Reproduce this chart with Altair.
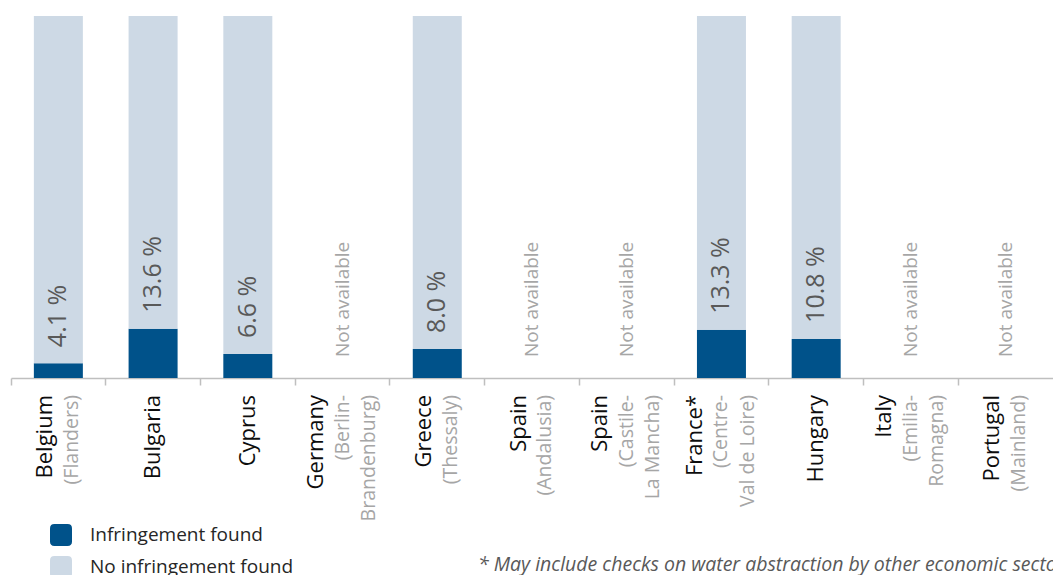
import altair as alt
import pandas as pd

countries = ["Belgium", "Bulgaria", "Cyprus", "Germany", "Greece", "Spain",
             "Spain", "France*", "Hungary", "Italy", "Portugal"]
regions = ["(Flanders)", "", "", "(Berlin-\nBrandenburg)", "(Thessaly)",
           "(Andalusia)", "(Castile-\nLa Mancha)", "(Centre-\nVal de Loire)",
           "", "(Emilia-\nRomagna)", "(Mainland)"]
infringement = [4.1, 13.6, 6.6, None, 8.0, None, None, 13.3, 10.8, None, None]
series = ["Infringement found", "No infringement found"]
footnote = "* May include checks on water abstraction by other economic sectors"

NB = "\u00a0"
keys, ctext, rtext = [], [], []
for i, (c, r) in enumerate(zip(countries, regions)):
    rl = r.split("\n") if r else []
    keys.append(f"{i:02d} {c}")
    ctext.append("\n".join([c] + [NB] * len(rl)))
    rtext.append("\n".join([NB] + rl))

df = pd.DataFrame({"key": keys, "ctext": ctext, "rtext": rtext,
                   "inf": infringement})

DARK = "#00528A"
LIGHT = "#CDD9E5"
FONT = "Open Sans"
LH = 26.5

x = alt.X("key:N", scale=alt.Scale(domain=keys, paddingInner=0, paddingOuter=0),
          axis=alt.Axis(title=None, labels=False, bandPosition=0, tickSize=7,
                        domainColor="#BFBFBF", tickColor="#BFBFBF",
                        domainWidth=1.5, tickWidth=1.5, grid=False))
yscale = alt.Scale(domain=[0, 100], nice=False, zero=True)

base = alt.Chart(df)

rounded = ("M -0.6,-1 L 0.6,-1 Q 1,-1 1,-0.6 L 1,0.6 Q 1,1 0.6,1 L -0.6,1 "
           "Q -1,1 -1,0.6 L -1,-0.6 Q -1,-1 -0.6,-1 Z")

bars = base.transform_filter("isValid(datum.inf)").transform_calculate(
    **{"Infringement found": "datum.inf",
       "No infringement found": "100 - datum.inf"}
).transform_fold(series, as_=["status", "val"]).transform_calculate(
    ord="indexof(['Infringement found','No infringement found'], datum.status)"
).mark_bar(size=49).encode(
    x=x,
    y=alt.Y("val:Q", stack="zero", scale=yscale, axis=None),
    color=alt.Color("status:N",
                    scale=alt.Scale(domain=series, range=[DARK, LIGHT]),
                    legend=alt.Legend(title=None, orient="none", legendX=39,
                                      legendY=508, symbolType=rounded,
                                      symbolSize=484, symbolStrokeWidth=0,
                                      labelFontSize=19, labelFont=FONT,
                                      labelColor="#262626", labelOffset=18,
                                      labelLimit=400,
                                      rowPadding=10, padding=0)),
    order=alt.Order("ord:Q"),
)

pct = base.transform_filter("isValid(datum.inf)").transform_calculate(
    lab="format(datum.inf, '.1f') + ' %'"
).mark_text(angle=270, align="left", baseline="middle", dx=16, fontSize=25,
            font=FONT, color="#595959").encode(
    x=x, y=alt.Y("inf:Q", scale=yscale, axis=None), text="lab:N")

na = base.transform_filter("!isValid(datum.inf)").transform_calculate(
    lab="'Not available'"
).mark_text(angle=270, align="left", baseline="middle", dx=21, fontSize=19,
            font=FONT, color="#A6A6A6").encode(
    x=x, y=alt.Y(datum=0, scale=yscale, axis=None), text="lab:N")

center_dy = alt.ExprRef(f"-(length(split(datum.ctext, '\\n')) - 1) * {LH / 2}")

clab = base.mark_text(angle=270, align="right", baseline="middle", dx=-17,
                      dy=center_dy, fontSize=22, font=FONT, color="#0D0D0D",
                      lineBreak="\n", lineHeight=LH).encode(
    x=x, y=alt.Y(datum=0, scale=yscale, axis=None), text="ctext:N")

rlab = base.mark_text(angle=270, align="right", baseline="middle", dx=-17,
                      dy=center_dy, fontSize=19.5, font=FONT, color="#A6A6A6",
                      lineBreak="\n", lineHeight=LH).encode(
    x=x, y=alt.Y(datum=0, scale=yscale, axis=None), text="rtext:N")

chart = alt.layer(bars, pct, na, clab, rlab).properties(
    width=1042, height=362,
    autosize=alt.AutoSizeParams(type="none"),
    padding={"left": 3, "top": 8, "right": 0, "bottom": 197},
    title=alt.TitleParams(footnote, orient="bottom", anchor="start",
                          frame="group", dx=467, offset=-22, fontSize=19.5,
                          font=FONT, fontStyle="italic", fontWeight="normal",
                          color="#595959", limit=2000),
).configure_view(stroke=None)

chart.save("out.html", embed_options={"renderer": "svg", "actions": False})
